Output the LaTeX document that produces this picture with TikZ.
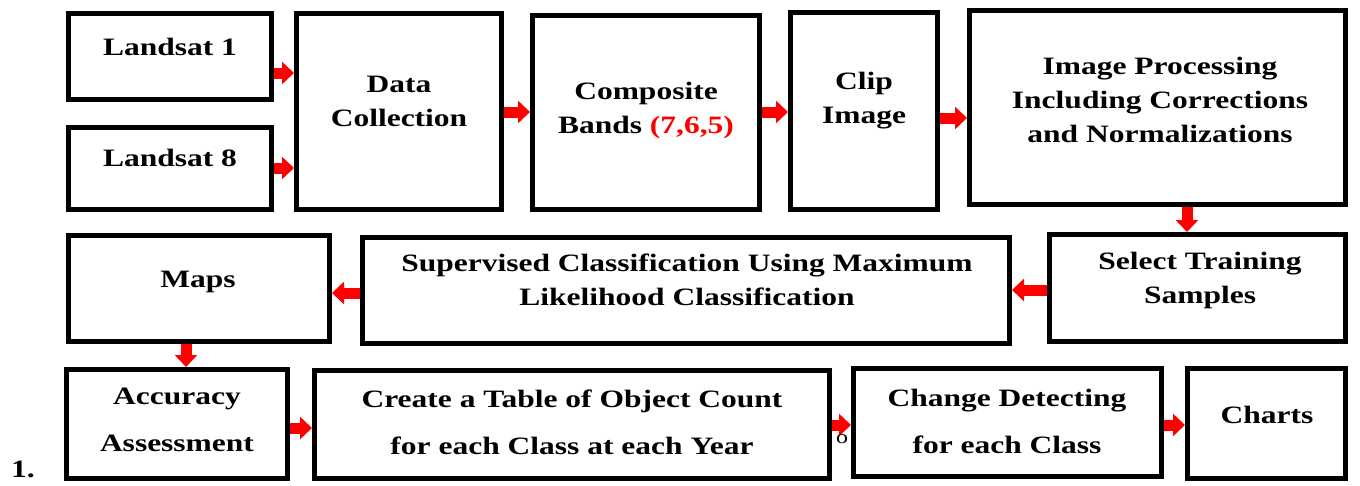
\documentclass[tikz,border=0pt]{standalone}
\usepackage{fontspec}
\setmainfont[FakeStretch=1.26]{Liberation Serif}
\usetikzlibrary{arrows.meta}
\begin{document}
\begin{tikzpicture}[x=1pt,y=-1pt,
  box/.style={draw=black,line width=5pt,inner sep=0pt,outer sep=0pt,fill=white},
  txt/.style={font=\fontsize{25}{34}\selectfont\bfseries,align=center,inner sep=0pt},
  txtb/.style={font=\fontsize{25}{47}\selectfont\bfseries,align=center,inner sep=0pt},
  arr/.style={draw=red,line width=11pt,-{Triangle[length=12pt,width=22pt]},shorten <=2.5pt,shorten >=2.5pt}]
\useasboundingbox (0,0) rectangle (1360,485);
% boxes
\node[box,minimum width=203pt,minimum height=86pt] (L1) at (170,56.5) {};
\node[box,minimum width=203pt,minimum height=82pt] (L8) at (170,168.5) {};
\node[box,minimum width=205pt,minimum height=196pt] (DC) at (399,111.5) {};
\node[box,minimum width=227pt,minimum height=194pt] (CB) at (646,112.5) {};
\node[box,minimum width=147pt,minimum height=197pt] (CI) at (864,111) {};
\node[box,minimum width=376pt,minimum height=194pt] (IP) at (1157.5,107.5) {};
\node[box,minimum width=296pt,minimum height=107pt] (ST) at (1197.5,288) {};
\node[box,minimum width=647pt,minimum height=106pt] (SC) at (686,290.5) {};
\node[box,minimum width=261pt,minimum height=106pt] (MP) at (199,288.5) {};
\node[box,minimum width=221pt,minimum height=109pt] (AA) at (177,424) {};
\node[box,minimum width=515pt,minimum height=108pt] (CT) at (572,424.5) {};
\node[box,minimum width=308pt,minimum height=108pt] (CD) at (1007.5,422.5) {};
\node[box,minimum width=158pt,minimum height=110pt] (CH) at (1266.5,423.5) {};
% arrows
\draw[arr] (L1.east |- 0,73) -- (DC.west |- 0,73);
\draw[arr] (L8.east |- 0,168) -- (DC.west |- 0,168);
\draw[arr] (DC.east |- 0,112) -- (CB.west |- 0,112);
\draw[arr] (CB.east |- 0,112) -- (CI.west |- 0,112);
\draw[arr] (CI.east |- 0,118) -- (IP.west |- 0,118);
\draw[arr] (IP.south -| 1187,0) -- (ST.north -| 1187,0);
\draw[arr] (ST.west |- 0,290) -- (SC.east |- 0,290);
\draw[arr] (SC.west |- 0,293) -- (MP.east |- 0,293);
\draw[arr] (MP.south -| 186,0) -- (AA.north -| 186,0);
\draw[arr] (AA.east |- 0,428) -- (CT.west |- 0,428);
\draw[arr] (CT.east |- 0,425) -- (CD.west |- 0,425);
\draw[arr] (CD.east |- 0,425) -- (CH.west |- 0,425);
% redraw box borders on top
\foreach \n in {L1,L8,DC,CB,CI,IP,ST,SC,MP,AA,CT,CD,CH}
  \draw[line width=5pt] (\n.north west) rectangle (\n.south east);
% texts
\node[txt] (tL1) at (170,47) {Landsat 1};
\node[txt] (tL8) at (170,158) {Landsat 8};
\node[txt] (tDC) at (399,101) {Data\\Collection};
\node[txt] (tCB) at (646,110) {Composite\\Bands {\color{red}(7,6,5)}};
\node[txt] (tCI) at (864,101) {Clip\\Image};
\node[txt] (tIP) at (1160,100) {Image Processing\\Including Corrections\\and Normalizations};
\node[txt] (tST) at (1200,280) {Select Training\\Samples};
\node[txt] (tSC) at (687,280) {Supervised Classification Using Maximum\\Likelihood Classification};
\node[txt] (tMP) at (198,282) {Maps};
\node[txtb] (tAA) at (177,420) {Accuracy\\Assessment};
\node[txtb] (tCT) at (572,422) {Create a Table of Object Count\\for each Class at each Year};
\node[txtb] (tCD) at (1007,421) {Change Detecting\\for each Class};
\node[txt] (tCH) at (1267,415) {Charts};
\node[font=\fontsize{19}{22}\selectfont,inner sep=0pt] (o) at (842,439) {o};
\node[font=\fontsize{25}{30}\selectfont\bfseries,inner sep=0pt] (num) at (23,469) {1.};
\end{tikzpicture}
\end{document}
